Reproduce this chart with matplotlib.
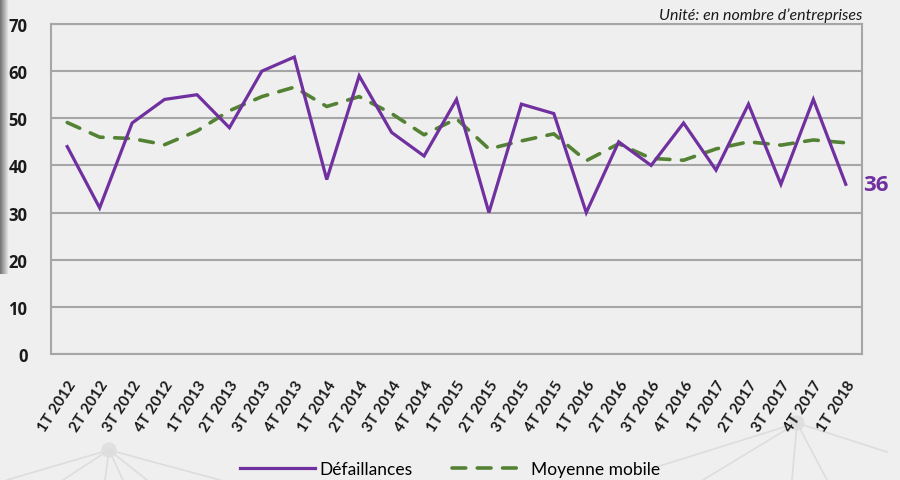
import matplotlib
matplotlib.use("Agg")
import matplotlib.pyplot as plt
import numpy as np
from matplotlib.lines import Line2D

categories = ["1T 2012", "2T 2012", "3T 2012", "4T 2012", "1T 2013", "2T 2013", "3T 2013", "4T 2013",
              "1T 2014", "2T 2014", "3T 2014", "4T 2014", "1T 2015", "2T 2015", "3T 2015", "4T 2015",
              "1T 2016", "2T 2016", "3T 2016", "4T 2016", "1T 2017", "2T 2017", "3T 2017", "4T 2017",
              "1T 2018"]
defaillances = [44, 31, 49, 54, 55, 48, 60, 63, 37, 59, 47, 42, 54, 30, 53, 51, 30, 45, 40, 49, 39, 53, 36, 54, 36]
moyenne_mobile = [49.1, 46.0, 45.7, 44.4, 47.3, 51.6, 54.6, 56.6, 52.5, 54.6, 51.0, 46.5, 49.9, 43.5, 45.2, 46.7,
                  41.0, 44.6, 41.5, 41.1, 43.5, 45.0, 44.3, 45.4, 44.8]
yticks = [0, 10, 20, 30, 40, 50, 60, 70]

plt.rcParams['font.family'] = ['Lato', 'DejaVu Sans']
bg = '#efefef'
purple = '#7030a0'
green = '#548235'
gridc = '#a6a6a6'

fig = plt.figure(figsize=(9, 4.81), dpi=100, facecolor=bg)

# decorative background network lines
deco = fig.add_axes([0, 0, 1, 1], zorder=0)
deco.set_xlim(0, 900); deco.set_ylim(481, 0); deco.axis('off')
lc = '#dddddd'
for (x1, y1) in [(7, 481), (63, 481), (105, 481), (123, 481), (147, 481), (220, 481)]:
    deco.plot([109, x1], [451, y1], color=lc, lw=1.2)
deco.add_patch(plt.Circle((109, 451), 7, color='#e0e0e0'))
for (x1, y1) in [(887, 453), (650, 470), (703, 481), (792, 481), (827, 481)]:
    deco.plot([797, x1], [424, y1], color=lc, lw=1.2)
deco.add_patch(plt.Circle((797, 424), 7, color='#e0e0e0'))
# left shaded bar
grad = np.linspace(0.45, 0.94, 20).reshape(1, -1)
deco.imshow(np.dstack([grad, grad, grad]), extent=(0, 9, 275, 0), aspect='auto', zorder=1)
deco.set_xlim(0, 900); deco.set_ylim(481, 0)

ax = fig.add_axes([51/900, 1-355/481, (862-51)/900, (355-25)/481], zorder=2)
ax.set_facecolor('none')
x = np.arange(len(categories))
ax.plot(x, defaillances, color=purple, lw=2.3, solid_joinstyle='miter', zorder=3)
ax.plot(x, moyenne_mobile, color=green, lw=2.6, dashes=(3.8, 3.2), dash_capstyle='round', zorder=2)

ax.set_xlim(-0.5, len(categories) - 0.5)
ax.set_ylim(0, 70)
ax.set_yticks(yticks)
ax.set_yticklabels([str(v) for v in yticks], family=['Open Sans', 'DejaVu Sans'], fontsize=12,
                   fontweight='bold', color='#1a1a1a')
ax.yaxis.grid(True, color=gridc, lw=1.5)
ax.set_axisbelow(True)
ax.tick_params(axis='y', length=0, pad=17)
ax.set_xticks(x)
ax.set_xticklabels(categories, rotation=57, ha='right', rotation_mode='anchor',
                   fontsize=11, fontweight='bold', color='#1a1a1a')
ax.tick_params(axis='x', length=0, pad=17)
for s in ax.spines.values():
    s.set_color(gridc); s.set_linewidth(1.5)

ax.text(x[-1] + 0.52, defaillances[-1], str(defaillances[-1]), color=purple,
        family=['Open Sans', 'DejaVu Sans'], fontsize=16, fontweight='bold', va='center', ha='left')
fig.text(862/900, 1-16/481, "Unité: en nombre d\u2019entreprises", ha='right', va='center',
         fontsize=11.5, style='italic', color='#1a1a1a')

handles = [Line2D([], [], color=purple, lw=2.3),
           Line2D([], [], color=green, lw=2.6, dashes=(3.8, 3.2), dash_capstyle='round')]
fig.legend(handles, ["Défaillances", "Moyenne mobile"], loc='center', bbox_to_anchor=(0.5, 1-470/481),
           ncol=2, frameon=False, fontsize=12.5, handlelength=4.3, columnspacing=2.3, handletextpad=0.25)

fig.savefig("out.png", dpi=100, facecolor=bg)
